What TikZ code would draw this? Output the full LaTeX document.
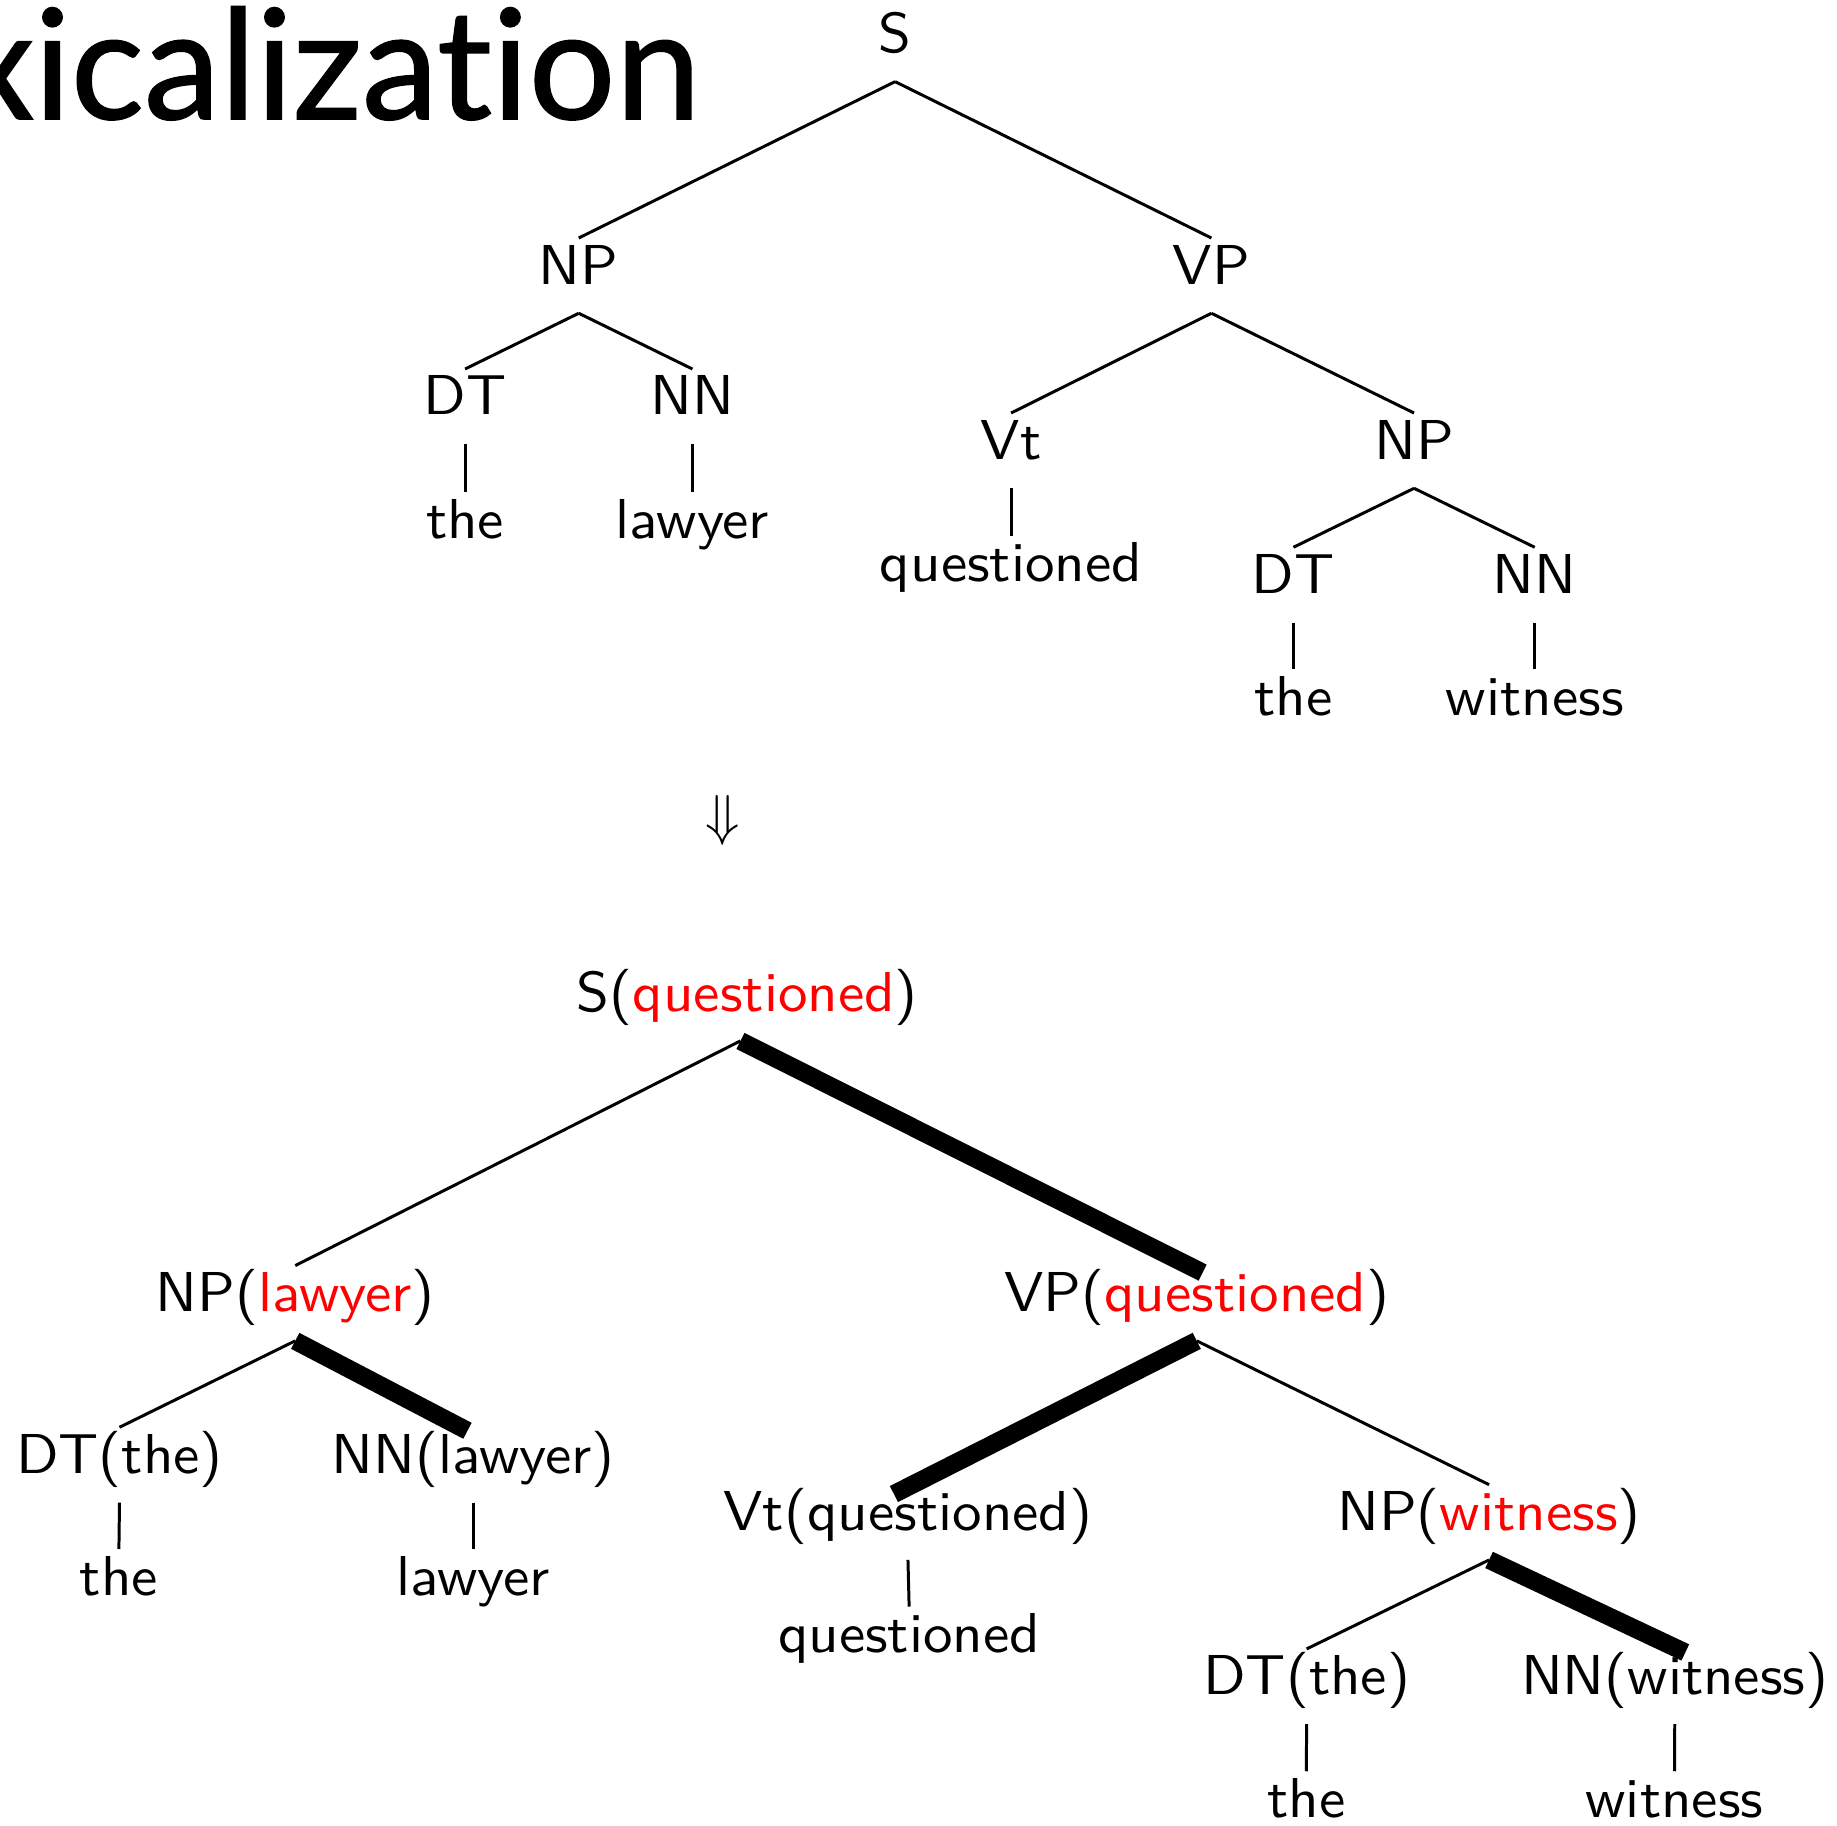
\documentclass[tikz,border=0pt]{standalone}
\usepackage{fontspec}
\newfontfamily\titlefont{Lato}[Ligatures={NoCommon}, FakeBold=1]
\newfontfamily\treefont{lmsans10-regular.otf}[FakeStretch=1.05]
\usetikzlibrary{calc}
\begin{document}
\begin{tikzpicture}[x=0.2083pt, y=-0.2083pt,
  lbl/.style={font=\treefont, inner xsep=0pt, inner ysep=1.04pt,
              text height=6.94pt, text depth=3.96pt, anchor=base},
  edge/.style={line width=0.53pt},
  head/.style={line width=3.2pt, line cap=butt},
]
\path[use as bounding box, clip] (0,0) rectangle (1568,1558);

% slide title, running off the left edge
\node[font=\titlefont\fontsize{27.2}{30}\selectfont, inner sep=0pt, anchor=base east]
  (title) at (599,101.6) {xicalization};

% ---------------- plain parse tree ----------------
\node[lbl] (s)   at (764,44.7)   {S};
\node[lbl] (np)  at (494,242.4)  {NP};
\node[lbl] (vp)  at (1034,242.4) {VP};
\node[lbl] (dta) at (397,354.2)  {DT};
\node[lbl] (nna) at (591,354.2)  {NN};
\node[lbl] (wa)  at (397,459.5)  {the};
\node[lbl] (wb)  at (591,459.5)  {lawyer};
\node[lbl] (vt)  at (863,391.8)  {Vt};
\node[lbl] (npb) at (1207,391.8) {NP};
\node[lbl] (wc)  at (863,496.5)  {questioned};
\node[lbl] (dtb) at (1104,506.4) {DT};
\node[lbl] (nnb) at (1310,506.4) {NN};
\node[lbl] (wd)  at (1104,610.3) {the};
\node[lbl] (we)  at (1310,610.3) {witness};

\draw[edge] (s.south) -- (np.north);
\draw[edge] (s.south) -- (vp.north);
\draw[edge] (np.south) -- (dta.north);
\draw[edge] (np.south) -- (nna.north);
\draw[edge] (dta.south) -- (wa.north);
\draw[edge] (nna.south) -- (wb.north);
\draw[edge] (vp.south) -- (vt.north);
\draw[edge] (vp.south) -- (npb.north);
\draw[edge] (vt.south) -- (wc.north);
\draw[edge] (npb.south) -- (dtb.north);
\draw[edge] (npb.south) -- (nnb.north);
\draw[edge] (dtb.south) -- (wd.north);
\draw[edge] (nnb.south) -- (we.north);

% arrow between the two trees
\node[inner sep=0pt, anchor=base] (arr) at (616.5,712) {$\Downarrow$};

% ---------------- lexicalized tree ----------------
\node[lbl] (ls)   at (638,863.5)    {S(\textcolor{red}{questioned})};
\node[lbl] (lnp)  at (252,1119.5)   {NP(\textcolor{red}{lawyer})};
\node[lbl] (lvp)  at (1021.5,1119.5){VP(\textcolor{red}{questioned})};
\node[lbl] (ldta) at (102,1257.5)   {DT(the)};
\node[lbl] (lnna) at (404,1257.5)   {NN(lawyer)};
\node[lbl] (lwa)  at (101.5,1361.4) {the};
\node[lbl] (lwb)  at (404,1361.4)   {lawyer};
\node[lbl] (lvt)  at (775,1306.5)   {Vt(questioned)};
\node[lbl] (lnpb) at (1271,1306.5)  {NP(\textcolor{red}{witness})};
\node[lbl] (lwc)  at (776,1410.5)   {questioned};
\node[lbl] (ldtb) at (1115.3,1446.7){DT(the)};
\node[lbl] (lnnb) at (1429.5,1446.7){NN(witness)};
\node[lbl] (lwd)  at (1115,1551.1)  {the};
\node[lbl] (lwe)  at (1429.3,1551.1){witness};

% ordinary branches
\draw[edge] ($(ls.south)+(-6,0)$) -- (lnp.north);
\draw[edge] (lnp.south) -- (ldta.north);
\draw[edge] (ldta.south) -- (lwa.north);
\draw[edge] (lnna.south) -- (lwb.north);
\draw[edge] (lvp.south) -- (lnpb.north);
\draw[edge] (lvt.south) -- (lwc.north);
\draw[edge] (lnpb.south) -- (ldtb.north);
\draw[edge] (ldtb.south) -- (lwd.north);
\draw[edge] (lnnb.south) -- (lwe.north);

% head branches
\draw[head] ($(ls.south)+(-6,0)$) -- ($(lvp.north)+(5,6)$);
\draw[head] (lnp.south) -- ($(lnna.north)+(-5,3)$);
\draw[head] (lvp.south) -- ($(lvt.north)+(-12,8)$);
\draw[head] (lnpb.south) -- ($(lnnb.north)+(9,3)$);
\end{tikzpicture}
\end{document}
